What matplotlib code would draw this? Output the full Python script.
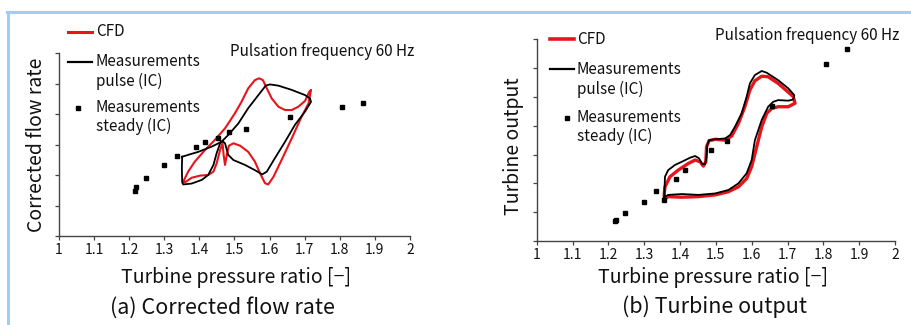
"""
Pulsating-flow turbine map at 60 Hz: CFD vs. measurements.
(a) corrected flow rate, (b) turbine output, both vs. pressure ratio.
"""
import matplotlib
matplotlib.use("Agg")
import matplotlib.pyplot as plt
from matplotlib.lines import Line2D

plt.rcParams["font.family"] = ["Noto Sans CJK JP", "DejaVu Sans"]

W, H = 912, 325

# ── data (y axes carry no labels, arbitrary units) ──
x_ticks = [1, 1.1, 1.2, 1.3, 1.4, 1.5, 1.6, 1.7, 1.8, 1.9, 2]
x_tick_labels = ["1", "1.1", "1.2", "1.3", "1.4", "1.5", "1.6", "1.7", "1.8", "1.9", "2"]

# (a) corrected flow rate
flow_steady_pr = [1.217, 1.219, 1.248, 1.299, 1.336, 1.391, 1.415, 1.452,
                  1.485, 1.532, 1.658, 1.807, 1.867]
flow_steady = [1.49, 1.62, 1.90, 2.34, 2.61, 2.93, 3.07, 3.22,
               3.41, 3.52, 3.91, 4.24, 4.37]

flow_pulse_pr = [1.351, 1.350, 1.351, 1.354, 1.378, 1.407, 1.425, 1.440, 1.449,
                 1.459, 1.466, 1.473, 1.482, 1.497, 1.530, 1.558, 1.579, 1.592,
                 1.615, 1.644, 1.672, 1.701, 1.718, 1.715, 1.701, 1.663, 1.625,
                 1.601, 1.589, 1.568, 1.539, 1.511, 1.482, 1.463, 1.435, 1.397,
                 1.368, 1.351]
flow_pulse = [2.60, 2.22, 1.76, 1.69, 1.72, 1.84, 2.00, 2.33, 2.71,
              3.04, 3.11, 3.04, 2.66, 2.49, 2.33, 2.16, 2.02, 2.11,
              2.55, 3.09, 3.64, 4.08, 4.40, 4.51, 4.62, 4.79, 4.93,
              4.97, 4.93, 4.62, 4.19, 3.69, 3.31, 3.09, 2.93, 2.76,
              2.66, 2.60]

flow_cfd_pr = [1.354, 1.368, 1.387, 1.416, 1.444, 1.473, 1.501, 1.520, 1.539,
               1.558, 1.570, 1.581, 1.592, 1.606, 1.625, 1.644, 1.663, 1.682,
               1.701, 1.713, 1.718, 1.711, 1.691, 1.663, 1.634, 1.611, 1.596,
               1.587, 1.573, 1.558, 1.539, 1.516, 1.497, 1.484, 1.478, 1.473,
               1.469, 1.466, 1.459, 1.449, 1.440, 1.425, 1.402, 1.378, 1.359,
               1.354]
flow_cfd = [1.78, 2.11, 2.44, 2.82, 3.15, 3.53, 4.02, 4.40, 4.84,
            5.11, 5.17, 5.11, 4.84, 4.51, 4.24, 4.13, 4.13, 4.24,
            4.43, 4.73, 4.79, 4.35, 3.91, 3.20, 2.49, 1.94, 1.69,
            1.73, 2.05, 2.44, 2.76, 2.96, 3.04, 2.96, 2.66, 2.33,
            2.66, 3.04, 2.82, 2.38, 2.11, 2.00, 1.98, 1.91, 1.76,
            1.78]

# (b) turbine output
power_steady_pr = [1.218, 1.221, 1.247, 1.299, 1.334, 1.356, 1.390, 1.415,
                   1.486, 1.531, 1.657, 1.808, 1.866]
power_steady = [0.68, 0.72, 0.98, 1.35, 1.75, 1.42, 2.16, 2.45,
                3.16, 3.46, 4.69, 6.14, 6.68]

power_pulse_pr = [1.356, 1.356, 1.357, 1.358, 1.367, 1.386, 1.405, 1.428, 1.442,
                  1.453, 1.462, 1.470, 1.474, 1.476, 1.481, 1.498, 1.526, 1.540,
                  1.553, 1.572, 1.586, 1.595, 1.609, 1.628, 1.642, 1.674, 1.702,
                  1.719, 1.716, 1.702, 1.674, 1.660, 1.646, 1.628, 1.609, 1.600,
                  1.586, 1.563, 1.535, 1.498, 1.451, 1.405, 1.367, 1.356]
power_pulse = [1.36, 1.54, 1.88, 2.23, 2.46, 2.64, 2.75, 2.89, 2.95,
               2.87, 2.67, 2.67, 2.92, 3.33, 3.50, 3.53, 3.56, 3.68,
               3.96, 4.43, 5.01, 5.47, 5.76, 5.90, 5.84, 5.58, 5.30,
               5.06, 4.91, 4.87, 4.89, 4.83, 4.66, 4.20, 3.50, 2.81,
               2.35, 2.00, 1.77, 1.65, 1.60, 1.63, 1.60, 1.52]

power_cfd_pr = [1.356, 1.356, 1.358, 1.372, 1.395, 1.423, 1.442, 1.456, 1.465,
                1.472, 1.474, 1.481, 1.498, 1.526, 1.544, 1.563, 1.581, 1.595,
                1.609, 1.628, 1.646, 1.674, 1.698, 1.716, 1.721, 1.702, 1.674,
                1.656, 1.642, 1.628, 1.614, 1.600, 1.586, 1.563, 1.535, 1.498,
                1.451, 1.405, 1.367, 1.356]
power_cfd = [1.45, 1.65, 1.88, 2.23, 2.46, 2.69, 2.81, 2.75, 2.60,
             2.75, 3.27, 3.48, 3.53, 3.50, 3.64, 4.08, 4.66, 5.24,
             5.56, 5.72, 5.70, 5.47, 5.21, 5.01, 4.78, 4.66, 4.66,
             4.60, 4.43, 3.96, 3.27, 2.58, 2.17, 1.88, 1.71, 1.60,
             1.54, 1.52, 1.54, 1.45]

RED = "#e8141c"
FRAME = "#a3cdf7"
TXT = "#111111"


def fx(px):
    return px / W


def fy(py):
    return 1 - py / H


def style_axis(ax, ymax):
    ax.set_xlim(1, 2)
    ax.set_ylim(0, ymax)
    ax.set_xticks(x_ticks)
    ax.set_xticklabels(x_tick_labels)
    ax.set_yticks(range(ymax + 1))
    ax.set_yticklabels([])
    for side in ("top", "right"):
        ax.spines[side].set_visible(False)
    for side in ("left", "bottom"):
        ax.spines[side].set_color("#444444")
        ax.spines[side].set_linewidth(1.0)
    ax.tick_params(length=3, width=0.9, color="#444444", labelsize=10,
                   labelcolor=TXT, pad=2)
    ax.patch.set_alpha(0)


fig = plt.figure(figsize=(W / 100, H / 100), dpi=100)

# light-blue frame
fig.add_artist(Line2D([fx(7), fx(912)], [fy(12), fy(12)], transform=fig.transFigure,
                      color=FRAME, lw=2.2))
fig.add_artist(Line2D([fx(8), fx(8)], [fy(12), fy(325)], transform=fig.transFigure,
                      color=FRAME, lw=2.2))

# ── (a) corrected flow rate ──────────────────────────────────────────────
ax1 = fig.add_axes([fx(59), fy(236), fx(410) - fx(59), fy(53) - fy(236)])
style_axis(ax1, 6)
ax1.plot(flow_cfd_pr, flow_cfd, color=RED, lw=1.5)
ax1.plot(flow_pulse_pr, flow_pulse, color="black", lw=1.3)
ax1.plot(flow_steady_pr, flow_steady, ls="none", marker="s", ms=3, color="black")

# ── (b) turbine output ───────────────────────────────────────────────────
ax2 = fig.add_axes([fx(536.7), fy(241), fx(895) - fx(536.7), fy(39.3) - fy(241)])
style_axis(ax2, 7)
ax2.plot(power_cfd_pr, power_cfd, color=RED, lw=2.4)
ax2.plot(power_pulse_pr, power_pulse, color="black", lw=1.3)
ax2.plot(power_steady_pr, power_steady, ls="none", marker="s", ms=3, color="black")

# ── labels, placed in figure pixels ──────────────────────────────────────
def ftext(px, py, s, **kw):
    kw.setdefault("color", TXT)
    fig.text(fx(px), fy(py), s, **kw)


ftext(236, 277, "Turbine pressure ratio [−]", ha="center", va="center", fontsize=14)
ftext(222, 308, "(a) Corrected flow rate", ha="center", va="center", fontsize=15.5)
ftext(37, 145, "Corrected flow rate", ha="center", va="center", rotation=90, fontsize=14)
ftext(322, 52, "Pulsation frequency 60 Hz", ha="center", va="center", fontsize=11)

ftext(713, 277, "Turbine pressure ratio [−]", ha="center", va="center", fontsize=14)
ftext(715, 307, "(b) Turbine output", ha="center", va="center", fontsize=15.5)
ftext(514, 146, "Turbine output", ha="center", va="center", rotation=90, fontsize=14)
ftext(807, 36, "Pulsation frequency 60 Hz", ha="center", va="center", fontsize=11)


# hand-placed legends (as in the original figure)
def legend_block(x_line, x_text, y_cfd, y_pulse, y_pulse2, x_sq, y_steady, y_steady2, cfd_lw):
    fig.add_artist(Line2D([fx(x_line), fx(x_line + 24)], [fy(y_cfd)] * 2,
                          transform=fig.transFigure, color=RED, lw=cfd_lw))
    fig.add_artist(Line2D([fx(x_line), fx(x_line + 24)], [fy(y_pulse)] * 2,
                          transform=fig.transFigure, color="black", lw=1.6))
    fig.add_artist(Line2D([fx(x_sq)], [fy(y_steady)], transform=fig.transFigure,
                          ls="none", marker="s", ms=3.5, color="black"))
    kw = dict(ha="left", va="center", fontsize=11)
    ftext(x_text, y_cfd, "CFD", **kw)
    ftext(x_text, y_pulse, "Measurements", **kw)
    ftext(x_text, y_pulse2, "pulse (IC)", **kw)
    ftext(x_text, y_steady, "Measurements", **kw)
    ftext(x_text, y_steady2, "steady (IC)", **kw)


legend_block(68, 96, 32, 62, 81, 78, 108, 126, 2.2)
legend_block(550, 577, 39, 69, 89, 567, 118, 136, 2.6)

fig.savefig("out.png", dpi=100)
